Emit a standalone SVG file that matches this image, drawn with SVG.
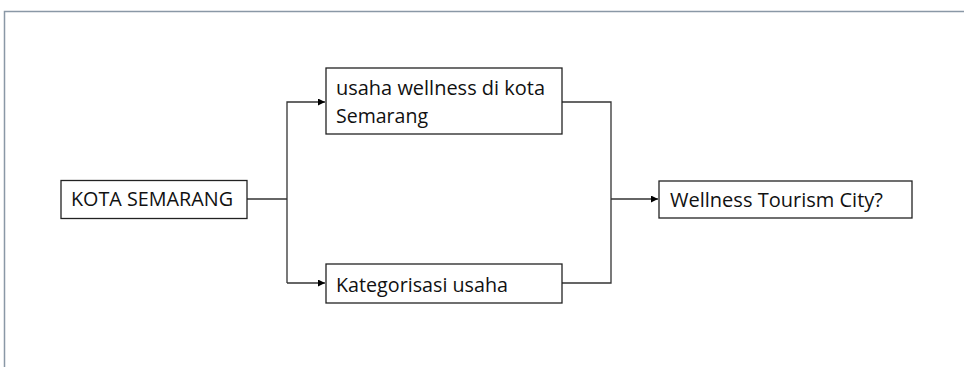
<svg xmlns="http://www.w3.org/2000/svg" width="964" height="367" viewBox="0 0 964 367">
<defs>
<marker id="arr" viewBox="0 0 10 10" refX="10" refY="5" markerWidth="7" markerHeight="7" markerUnits="userSpaceOnUse" orient="auto">
<path d="M0,0 L10,5 L0,10 z" fill="#000"/>
</marker>
</defs>
<style>
.box{fill:#fff;stroke:#222;stroke-width:1.3}
.t{font-family:"Open Sans","Liberation Sans",sans-serif;font-size:20px;fill:#111}
.c{fill:none;stroke:#333;stroke-width:1.3}
</style>
<rect width="964" height="367" fill="#fff"/>
<path d="M4.5,367 V11.5 H964" fill="none" stroke="#8a98a6" stroke-width="1.5"/>
<g id="connectors">
<path class="c" d="M247,199 H287"/>
<path class="c" d="M287,283 V102 H325" marker-end="url(#arr)"/>
<path class="c" d="M287,283 H325" marker-end="url(#arr)"/>
<path class="c" d="M562,102 H611 V283 H562"/>
<path class="c" d="M611,199 H658" marker-end="url(#arr)"/>
</g>
<g id="kota">
<rect class="box" x="61" y="180.5" width="186" height="38"/>
<text class="t" x="71" y="206" textLength="162" lengthAdjust="spacingAndGlyphs">KOTA SEMARANG</text>
</g>
<g id="usaha">
<rect class="box" x="326" y="68" width="236" height="66"/>
<text class="t" x="336" y="95" textLength="209" lengthAdjust="spacingAndGlyphs">usaha wellness di kota</text>
<text class="t" x="336" y="123" textLength="92" lengthAdjust="spacingAndGlyphs">Semarang</text>
</g>
<g id="kategori">
<rect class="box" x="326" y="264" width="236" height="39"/>
<text class="t" x="336" y="292" textLength="172" lengthAdjust="spacingAndGlyphs">Kategorisasi usaha</text>
</g>
<g id="wellness">
<rect class="box" x="659" y="181" width="253" height="37"/>
<text class="t" x="670" y="207" textLength="213" lengthAdjust="spacingAndGlyphs">Wellness Tourism City?</text>
</g>
</svg>
